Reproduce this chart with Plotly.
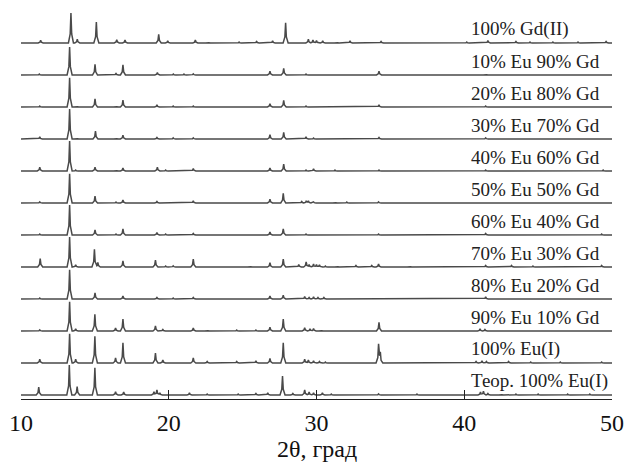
import numpy as np
import plotly.graph_objects as go

# Peak tables (2θ in degrees, relative intensity 0-100) for each diffractogram
theor_eu1 = [(11.2, 26), (13.27, 100), (13.8, 28), (15.0, 91), (16.4, 11), (16.95, 10),
             (19.0, 11), (19.2, 17), (19.4, 7), (21.4, 7), (22.6, 3), (24.7, 3), (25.9, 5),
             (26.7, 7), (27.7, 63), (28.4, 5), (29.2, 17), (29.5, 10), (29.8, 7), (30.4, 7),
             (31.0, 3), (34.2, 4), (36.8, 3), (41.1, 10), (41.3, 13), (41.6, 5), (42.5, 3),
             (43.5, 3), (45.0, 3), (47.0, 3), (48.5, 3)]
eu100 = [(11.27, 13), (13.29, 97), (13.7, 13), (15.0, 89), (16.4, 17), (16.9, 67),
         (19.1, 33), (19.6, 10), (21.66, 17), (22.6, 5), (24.6, 5), (25.9, 7), (26.85, 15),
         (27.75, 67), (29.2, 13), (29.45, 10), (29.8, 7), (30.2, 5), (30.6, 3), (34.2, 60),
         (34.32, 30), (40.8, 5), (41.2, 7), (41.5, 5), (43.0, 5), (44.5, 3), (46.5, 3), (49.3, 3)]
eu90_gd10 = [(11.27, 4), (13.29, 97), (13.7, 7), (15.0, 56), (16.4, 10), (16.9, 40),
             (19.1, 17), (19.6, 5), (21.66, 10), (22.6, 3), (24.6, 3), (25.9, 3), (26.85, 13),
             (27.75, 40), (29.2, 11), (29.56, 7), (29.8, 8), (30.3, 3), (34.23, 29),
             (41.07, 7), (41.4, 5), (49.6, 2)]
eu80_gd20 = [(11.27, 3), (13.29, 97), (15.01, 20), (16.9, 10), (19.2, 5), (20.3, 3),
             (21.66, 5), (26.85, 10), (27.75, 13), (29.2, 8), (29.5, 5), (29.8, 7), (30.1, 5),
             (30.5, 5), (41.45, 7)]
eu70_gd30 = [(11.3, 28), (13.29, 100), (13.7, 7), (14.97, 59), (15.2, 15), (16.9, 20),
             (19.1, 23), (19.79, 3), (20.3, 4), (21.66, 26), (25.5, 3), (26.85, 14),
             (27.75, 26), (28.8, 8), (29.3, 17), (29.5, 8), (29.8, 10), (30.0, 8), (30.2, 7),
             (30.6, 3), (31.4, 3), (32.67, 5), (33.74, 5), (34.2, 10), (36.3, 3), (41.45, 5),
             (43.2, 5), (44.65, 3), (46.0, 2), (49.3, 5)]
eu60_gd40 = [(11.27, 3), (13.29, 100), (15.01, 17), (16.43, 3), (16.9, 20), (19.2, 8),
             (19.79, 3), (21.66, 5), (26.85, 10), (27.75, 20), (29.29, 3), (29.8, 2),
             (34.2, 3), (41.45, 5), (49.3, 3)]
eu50_gd50 = [(11.27, 4), (13.29, 97), (15.01, 23), (16.43, 3), (16.9, 10), (19.2, 5),
             (21.66, 7), (26.85, 13), (27.75, 32), (29.0, 5), (29.3, 7), (29.45, 7), (29.8, 4),
             (31.25, 3), (32.05, 3), (34.2, 4), (41.45, 2)]
eu40_gd60 = [(11.27, 13), (13.29, 100), (13.7, 3), (15.01, 13), (16.43, 3), (16.9, 10),
             (19.23, 13), (19.79, 3), (21.66, 8), (26.85, 10), (27.78, 23), (29.29, 3),
             (29.8, 7), (30.4, 2), (31.25, 3), (34.23, 3), (41.45, 3), (49.4, 3)]
eu30_gd70 = [(11.27, 7), (13.29, 100), (13.76, 3), (15.04, 26), (16.43, 3), (16.9, 13),
             (19.2, 5), (20.3, 4), (21.66, 4), (26.85, 14), (27.78, 22), (29.29, 7), (29.8, 3),
             (30.4, 2), (31.2, 2), (34.23, 5), (41.45, 4), (49.6, 2)]
eu20_gd80 = [(11.27, 3), (13.29, 97), (13.76, 3), (15.01, 27), (16.43, 3), (16.9, 23),
             (19.2, 7), (20.3, 3), (21.0, 2), (21.66, 3), (26.85, 11), (27.78, 22), (29.29, 3),
             (29.8, 2), (30.4, 2), (31.2, 2), (34.23, 7), (41.45, 3), (49.6, 2)]
eu10_gd90 = [(11.24, 3), (13.29, 93), (15.01, 36), (16.43, 5), (16.9, 34), (19.23, 8),
             (20.31, 3), (21.03, 3), (21.66, 4), (26.85, 13), (27.78, 22), (29.29, 3),
             (29.8, 2), (30.4, 2), (31.2, 2), (32.2, 2), (34.23, 13), (41.45, 3), (43.5, 2),
             (46.3, 2), (49.6, 2)]
gd100 = [(11.33, 9), (13.38, 100), (13.81, 13), (15.1, 70), (16.48, 11), (17.04, 10),
         (19.32, 29), (19.93, 7), (21.8, 10), (22.66, 3), (24.76, 3), (25.95, 5), (27.03, 7),
         (27.91, 67), (29.45, 13), (29.76, 10), (30.0, 8), (30.42, 7), (31.37, 3), (32.27, 7),
         (34.37, 5), (40.17, 3), (41.6, 8), (43.5, 5), (44.45, 3), (46.0, 3), (47.7, 3),
         (49.6, 5)]

patterns = [theor_eu1, eu100, eu90_gd10, eu80_gd20, eu70_gd30, eu60_gd40,
            eu50_gd50, eu40_gd60, eu30_gd70, eu20_gd80, eu10_gd90, gd100]
labels = ["Теор. 100% Eu(I)", "100% Eu(I)", "90% Eu 10% Gd", "80% Eu 20% Gd",
          "70% Eu 30% Gd", "60% Eu 40% Gd", "50% Eu 50% Gd", "40% Eu 60% Gd",
          "30% Eu 70% Gd", "20% Eu 80% Gd", "10% Eu 90% Gd", "100% Gd(II)"]
x_ticks = [10, 20, 30, 40, 50]

X_MIN, X_MAX = 10.0, 50.0
FOOT, SHOULDER = 0.17, 0.05      # peak half-width at base / near the apex, degrees
STEP = 32.0                      # vertical shift between stacked patterns
BASE = 4.0
SCALE = 0.3                      # display units per intensity unit
SERIF = "Liberation Serif, Times New Roman, serif"
LINE = "#4a4a4a"


def profile(peak_list):
    """Piecewise-linear stick profile built from a peak table."""
    knots = {X_MIN, X_MAX}
    for p, _ in peak_list:
        knots.update([p - FOOT, p - SHOULDER, p, p + SHOULDER, p + FOOT])
    x = np.array(sorted(k for k in knots if X_MIN <= k <= X_MAX))
    y = np.zeros_like(x)
    for p, h in peak_list:
        y += np.interp(x, [p - FOOT, p - SHOULDER, p, p + SHOULDER, p + FOOT],
                       [0, 0.3 * h, h, 0.3 * h, 0], left=0, right=0)
    return x, y


fig = go.Figure()
annotations = []
for i, (pk, name) in enumerate(zip(patterns, labels)):
    offset = BASE + STEP * i
    x, y = profile(pk)
    fig.add_trace(go.Scatter(x=x, y=offset + SCALE * y, mode="lines",
                             line=dict(color=LINE, width=1.5), hoverinfo="skip",
                             showlegend=False))
    annotations.append(dict(x=40.3, y=offset + 14, xref="x", yref="y", text=name,
                            showarrow=False, xanchor="left", yanchor="middle",
                            font=dict(family=SERIF, size=19, color="#222")))

annotations.append(dict(x=0.5, y=-0.125, xref="paper", yref="paper", text="2θ, град",
                        showarrow=False, xanchor="center", yanchor="middle",
                        font=dict(family=SERIF, size=24, color="#111")))

fig.update_layout(
    width=626, height=464,
    margin=dict(l=21, r=14, t=0, b=65),
    paper_bgcolor="white", plot_bgcolor="white",
    annotations=annotations,
    xaxis=dict(range=[X_MIN, X_MAX], tickvals=x_ticks, ticks="inside", ticklen=9,
               tickwidth=1.2, tickcolor="#222", showline=True, linecolor="#222",
               linewidth=1.2, showgrid=False, zeroline=False, ticklabelstandoff=2,
               tickfont=dict(family=SERIF, size=24, color="#111")),
    yaxis=dict(range=[0, 399], visible=False, showgrid=False, zeroline=False),
)

fig.write_html("out.html")
